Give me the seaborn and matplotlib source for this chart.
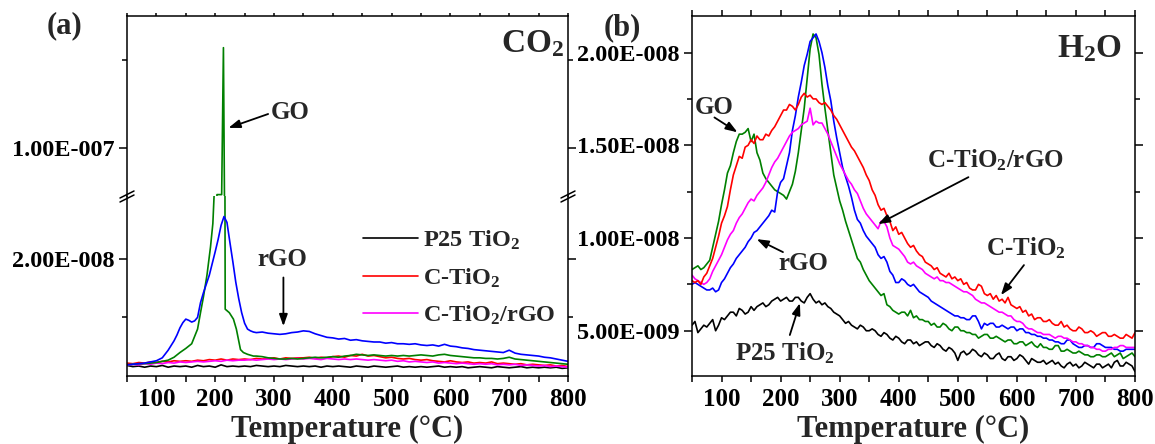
import numpy as np
import matplotlib
matplotlib.use("Agg")
import matplotlib.pyplot as plt
import seaborn as sns
from matplotlib.lines import Line2D
from matplotlib.ticker import FixedLocator

# ---------------- data (panel a, CO2, units 1e-8) ----------------
T_a = np.arange(50, 801, 10)
p25_a = [0.18,0.16,0.17,0.15,0.17,0.16,0.18,0.15,0.17,0.16,
         0.17,0.15,0.18,0.16,0.17,0.15,0.19,0.16,0.17,0.16,
         0.17,0.16,0.18,0.17,0.16,0.17,0.16,0.18,0.17,0.16,
         0.17,0.16,0.17,0.15,0.17,0.16,0.17,0.16,0.15,0.17,
         0.16,0.15,0.17,0.16,0.15,0.16,0.17,0.15,0.16,0.15,
         0.16,0.15,0.16,0.17,0.15,0.16,0.15,0.16,0.14,0.15,
         0.16,0.15,0.14,0.16,0.15,0.14,0.15,0.16,0.14,0.15,
         0.14,0.15,0.14,0.15,0.13,0.14]
ctio2_a = [0.22,0.21,0.23,0.22,0.24,0.23,0.25,0.24,0.26,0.25,
           0.26,0.25,0.27,0.26,0.28,0.27,0.29,0.27,0.29,0.28,
           0.29,0.28,0.30,0.29,0.30,0.31,0.29,0.31,0.30,0.31,
           0.31,0.32,0.30,0.32,0.31,0.33,0.34,0.32,0.35,0.34,
           0.37,0.34,0.35,0.33,0.31,0.32,0.30,0.29,0.30,0.28,
           0.27,0.28,0.26,0.25,0.24,0.26,0.24,0.23,0.24,0.22,
           0.23,0.22,0.24,0.21,0.22,0.21,0.20,0.21,0.19,0.20,
           0.19,0.18,0.19,0.17,0.18,0.16]
ctio2rgo_a = [0.18,0.20,0.19,0.21,0.20,0.22,0.21,0.23,0.22,0.24,
              0.23,0.24,0.25,0.24,0.25,0.26,0.25,0.27,0.26,0.27,
              0.27,0.28,0.27,0.28,0.29,0.28,0.29,0.28,0.29,0.30,
              0.29,0.30,0.29,0.28,0.30,0.29,0.28,0.29,0.28,0.29,
              0.28,0.27,0.28,0.27,0.26,0.27,0.25,0.26,0.24,0.25,
              0.24,0.23,0.24,0.22,0.23,0.22,0.21,0.22,0.21,0.20,
              0.21,0.20,0.21,0.19,0.20,0.19,0.20,0.18,0.19,0.18,
              0.17,0.18,0.16,0.17,0.16,0.15]
T_rgo_a = [50,60,70,80,90,100,110,120,130,
           135,140,145,150,155,160,165,170,175,180,185,190,195,200,205,210,215,220,
           225,230,235,240,245,250,255,260,265,
           270,280,290,300,310,320,330,340,350,360,370,380,390,400,410,420,430,440,
           450,460,470,480,490,500,510,520,530,540,550,560,570,580,590,600,610,620,
           630,640,650,660,670,680,690,700,710,720,730,740,750,760,770,780,790,800]
rgo_a = [0.19,0.20,0.21,0.22,0.24,0.26,0.31,0.44,0.60,
         0.70,0.82,0.91,0.97,0.95,0.92,0.94,1.00,1.25,1.42,1.57,1.72,1.92,2.12,2.33,2.57,2.72,2.62,
         2.28,1.95,1.60,1.32,1.08,0.90,0.80,0.77,0.75,
         0.74,0.75,0.73,0.72,0.71,0.72,0.74,0.75,0.77,0.76,0.72,0.69,0.66,0.65,0.63,0.64,0.61,0.62,
         0.60,0.59,0.58,0.58,0.56,0.57,0.55,0.55,0.54,0.55,0.53,0.52,0.53,0.51,0.54,0.51,0.50,0.48,
         0.47,0.45,0.44,0.43,0.42,0.41,0.40,0.44,0.39,0.37,0.36,0.35,0.34,0.32,0.31,0.29,0.27,0.25]
T_go_a = [50,60,70,80,90,100,110,120,130,140,150,160,170,175,180,186,192,196,200,203,211,214,217,
          224,231,236,240,243,248,255,265,
          270,280,290,300,310,320,330,340,350,360,370,380,390,400,410,420,430,440,
          450,460,470,480,490,500,510,520,530,540,550,560,570,580,590,600,610,620,
          630,640,650,660,670,680,690,700,710,720,730,740,750,760,770,780,790,800]
go_a = [0.19,0.20,0.21,0.21,0.22,0.23,0.25,0.27,0.32,0.40,0.47,0.55,0.80,1.08,1.35,1.72,2.20,2.60,3.50,7.35,7.35,15.7,1.14,
        1.08,0.97,0.80,0.60,0.45,0.40,0.37,0.34,
        0.34,0.33,0.31,0.30,0.29,0.29,0.30,0.29,0.30,0.31,0.32,0.31,0.32,0.33,0.32,0.34,0.35,0.37,
        0.36,0.35,0.36,0.35,0.34,0.35,0.34,0.35,0.34,0.35,0.36,0.35,0.34,0.36,0.37,0.35,0.34,0.33,
        0.32,0.31,0.31,0.30,0.30,0.29,0.30,0.32,0.29,0.28,0.27,0.26,0.25,0.24,0.23,0.22,0.21,0.20]

# ---------------- data (panel b, H2O, units 1e-9, every 5 C) ----------------
T_b = np.arange(50, 801, 5)
p25_b = [5.3,5.5,4.9,5.1,5.3,5.2,5.4,5.6,5.0,5.3,
         5.7,5.6,5.8,6.0,6.0,5.8,6.2,6.1,5.9,6.0,
         6.3,6.1,6.3,6.4,6.5,6.3,6.4,6.6,6.7,6.8,
         6.6,6.7,6.8,6.6,6.6,6.8,6.8,6.6,6.5,6.8,
         7.0,6.7,6.5,6.6,6.4,6.5,6.3,6.2,6.0,5.9,
         5.8,5.6,5.4,5.5,5.3,5.2,5.1,5.3,5.2,5.0,
         5.0,5.1,5.0,4.8,4.7,4.9,4.8,4.6,4.5,4.7,
         4.6,4.4,4.3,4.5,4.5,4.3,4.4,4.2,4.3,4.4,
         4.4,4.2,4.1,4.3,4.2,4.0,3.9,4.1,4.0,3.8,
         3.4,3.8,3.9,3.7,3.8,4.0,3.9,3.7,3.6,3.8,
         3.7,3.5,3.5,3.7,3.8,3.5,3.4,3.6,3.6,3.4,
         3.5,3.7,3.6,3.4,3.2,3.5,3.4,3.3,3.3,3.4,
         3.2,3.3,3.4,3.2,3.3,3.1,3.0,3.2,3.3,3.1,
         3.2,3.0,3.1,3.3,3.2,3.1,3.0,3.2,3.2,3.0,
         3.1,3.2,3.0,3.3,3.4,3.1,3.1,3.3,3.2,3.1,
         2.8]
go_b = [8.3,8.4,8.5,8.3,8.4,8.6,8.8,9.5,10.2,10.9,
        11.8,12.6,13.5,13.9,14.6,15.2,15.6,15.6,15.7,15.9,
        15.2,15.6,14.6,14.2,13.5,13.2,13.0,12.8,12.6,12.5,
        12.4,12.3,12.1,12.5,12.9,13.6,14.6,15.8,17.0,18.6,
        20.2,21.0,20.8,19.9,18.3,17.0,15.8,14.6,13.4,12.7,
        12.0,11.5,10.9,10.4,9.9,9.4,8.9,8.7,8.3,8.0,
        7.7,7.5,7.3,7.1,6.9,7.0,6.4,6.3,6.1,6.0,
        5.9,6.0,6.0,5.8,6.1,5.7,5.8,5.6,5.6,5.5,
        5.5,5.3,5.4,5.2,5.2,5.4,5.3,5.1,5.0,5.2,
        5.2,5.0,5.0,4.9,4.9,4.8,4.8,4.6,4.7,4.8,
        4.8,4.6,4.6,4.7,4.6,4.5,4.4,4.5,4.5,4.3,
        4.3,4.4,4.4,4.2,4.3,4.4,4.2,4.1,4.3,4.1,
        4.1,4.0,4.0,4.2,4.2,3.9,3.9,4.0,3.9,3.8,
        3.8,3.9,3.8,3.7,3.7,3.6,3.6,3.7,3.7,3.6,
        3.6,3.7,3.8,3.6,3.7,3.8,3.5,3.6,3.7,3.8,
        3.6]
ctio2_b = [7.7,7.6,7.7,7.5,7.9,8.1,8.5,8.9,9.5,10.1,
           10.8,11.2,11.7,12.6,13.4,13.9,14.4,14.3,14.9,15.0,
           15.3,15.1,15.5,15.3,15.3,15.6,15.5,15.8,16.0,16.3,
           16.6,16.9,16.9,17.2,17.1,16.9,17.2,17.6,17.8,17.6,
           17.7,17.5,17.5,17.3,17.2,17.3,17.1,16.9,16.6,16.4,
           16.1,15.8,15.5,15.2,14.9,14.7,14.4,14.1,13.8,13.4,
           13.1,12.6,12.3,11.8,11.5,11.6,11.2,10.9,10.4,10.6,
           10.2,10.3,10.0,9.7,9.5,9.6,9.3,9.1,9.0,8.7,
           8.6,8.5,8.3,8.4,8.1,8.0,7.9,8.1,7.8,7.9,
           7.7,7.8,7.5,7.6,7.3,7.2,7.2,7.5,7.4,7.0,
           6.9,7.0,6.7,6.9,6.6,6.7,6.5,6.8,6.4,6.3,
           6.2,6.3,6.0,6.1,5.8,5.9,5.6,5.7,5.7,5.5,
           5.5,5.6,5.4,5.3,5.3,5.5,5.2,5.3,5.1,5.0,
           5.0,5.2,5.1,4.9,4.9,5.0,4.9,4.7,4.8,4.9,
           4.9,4.7,4.7,4.8,4.7,4.6,4.6,4.8,4.7,4.6,
           4.9]
ctio2rgo_b = [8.0,7.8,7.7,7.6,7.5,7.6,7.8,8.2,8.5,8.8,
              9.1,9.5,9.9,10.2,10.4,10.8,11.1,11.3,11.6,11.9,
              12.1,12.0,12.3,12.5,12.7,13.0,13.4,13.8,14.1,14.3,
              14.6,14.9,15.2,15.5,15.7,15.8,15.9,16.1,16.2,16.3,
              17.0,16.1,16.3,16.2,16.2,15.9,15.6,15.2,14.8,14.4,
              14.0,13.7,13.4,13.1,12.9,12.6,12.4,12.0,11.6,11.3,
              11.1,10.9,10.7,10.5,10.9,10.9,10.6,10.0,9.6,9.5,
              9.4,9.2,9.0,8.7,8.6,8.7,8.5,8.4,8.3,8.1,
              8.0,7.9,7.8,7.9,7.7,7.7,7.6,7.6,7.5,7.4,
              7.3,7.2,7.1,7.1,7.0,6.9,6.7,6.6,6.5,6.5,
              6.4,6.3,6.2,6.1,6.0,6.0,5.9,5.8,5.8,5.6,
              5.5,5.5,5.4,5.2,5.1,5.1,5.0,4.9,4.9,4.8,
              4.8,4.8,4.7,4.6,4.7,4.7,4.6,4.6,4.5,4.4,
              4.4,4.3,4.3,4.2,4.2,4.1,4.1,4.0,4.0,3.9,
              3.9,4.0,4.0,4.1,4.1,4.2,4.2,4.1,4.1,4.1,
              4.1]
rgo_b = [7.5,7.6,7.5,7.4,7.3,7.2,7.2,7.3,7.1,7.2,
         7.6,7.8,8.1,8.4,8.6,8.9,9.1,9.3,9.5,9.8,
         10.0,10.3,10.4,10.6,10.8,11.0,11.2,11.5,11.4,12.5,
         13.0,13.2,13.9,14.6,15.8,16.6,17.6,18.4,19.3,19.9,
         20.6,20.8,21.0,20.6,20.0,19.2,18.2,17.4,16.3,15.4,
         14.6,13.8,13.3,12.8,12.2,11.5,11.0,10.8,10.4,10.1,
         9.9,9.7,9.5,9.1,8.9,9.0,8.7,8.2,8.0,7.6,
         7.6,7.8,7.7,7.5,7.4,7.5,7.3,7.1,7.0,6.9,
         6.8,6.6,6.5,6.4,6.3,6.2,6.1,6.0,5.9,5.8,
         5.8,5.7,5.7,5.6,5.6,5.8,5.8,5.5,5.1,5.4,
         5.3,5.4,5.4,5.2,5.2,5.3,5.2,5.1,5.2,5.2,
         5.0,5.1,5.1,4.9,4.9,4.8,4.8,4.7,4.7,4.6,
         4.6,4.5,4.5,4.4,4.4,4.3,4.3,4.5,4.5,4.3,
         4.2,4.1,4.1,4.2,4.2,4.1,4.1,4.3,4.3,4.2,
         4.1,4.1,4.1,4.0,4.0,3.9,3.9,4.0,4.0,4.0,
         4.0]

x_ticks = [100, 200, 300, 400, 500, 600, 700, 800]
x_labels = ["100", "200", "300", "400", "500", "600", "700", "800"]
ya_up_ticks = [1.0e-7]; ya_up_labels = ["1.00E-007"]
ya_low_ticks = [2.0e-8]; ya_low_labels = ["2.00E-008"]
yb_ticks = [5e-9, 1e-8, 1.5e-8, 2e-8]
yb_labels = ["5.00E-009", "1.00E-008", "1.50E-008", "2.00E-008"]
legend_labels = ["P25 TiO$_2$", "C-TiO$_2$", "C-TiO$_2$/rGO"]

COL = {"p25": "black", "c": "#ff0000", "crgo": "#ff00ff", "rgo": "#0000ff", "go": "#008000"}

sns.set_style("ticks")
plt.rcParams.update({
    "font.family": ["Liberation Serif", "DejaVu Serif"],
    "font.weight": "bold",
    "mathtext.fontset": "custom",
    "mathtext.rm": "Liberation Serif:bold",
    "mathtext.bf": "Liberation Serif:bold",
    "mathtext.it": "Liberation Serif:bold",
    "mathtext.default": "rm",
    "axes.linewidth": 1.1,
    "axes.edgecolor": "black",
})

W, H = 1155, 444
fig = plt.figure(figsize=(W / 100, H / 100), dpi=100)
axA_low = fig.add_axes([127 / W, 1 - 376 / H, 441 / W, 180 / H])
axA_up = fig.add_axes([127 / W, 1 - 196 / H, 441 / W, 180 / H])
axB = fig.add_axes([692 / W, 1 - 376 / H, 443 / W, 360 / H])

LW = 1.2
for ax in (axA_low, axA_up):
    sns.lineplot(x=T_a, y=np.array(p25_a) * 1e-8, color=COL["p25"], lw=LW, ax=ax, legend=False)
    sns.lineplot(x=T_a, y=np.array(ctio2_a) * 1e-8, color=COL["c"], lw=LW, ax=ax, legend=False)
    sns.lineplot(x=T_a, y=np.array(ctio2rgo_a) * 1e-8, color=COL["crgo"], lw=LW, ax=ax, legend=False)
    sns.lineplot(x=T_go_a, y=np.array(go_a) * 1e-8, color=COL["go"], lw=LW, ax=ax, legend=False, sort=False)
    sns.lineplot(x=T_rgo_a, y=np.array(rgo_a) * 1e-8, color=COL["rgo"], lw=LW, ax=ax, legend=False)
    ax.set_xlim(50, 800)

sns.lineplot(x=T_b, y=np.array(p25_b) * 1e-9, color=COL["p25"], lw=LW, ax=axB, legend=False)
sns.lineplot(x=T_b, y=np.array(go_b) * 1e-9, color=COL["go"], lw=LW, ax=axB, legend=False)
sns.lineplot(x=T_b, y=np.array(rgo_b) * 1e-9, color=COL["rgo"], lw=LW, ax=axB, legend=False)
sns.lineplot(x=T_b, y=np.array(ctio2rgo_b) * 1e-9, color=COL["crgo"], lw=LW, ax=axB, legend=False)
sns.lineplot(x=T_b, y=np.array(ctio2_b) * 1e-9, color=COL["c"], lw=LW, ax=axB, legend=False)
axB.set_xlim(50, 800)

axA_low.set_ylim(0, 3.07e-8)
axA_up.set_ylim(7.27e-8, 1.75e-7)
axB.set_ylim(2.56e-9, 2.197e-8)

for ax in (axA_low, axA_up, axB):
    ax.set_xlabel("")
    ax.set_ylabel("")
    for s in ax.spines.values():
        s.set_visible(True)
        s.set_linewidth(1.1)
    ax.xaxis.set_major_locator(FixedLocator(x_ticks))
    ax.xaxis.set_minor_locator(FixedLocator([50, 150, 250, 350, 450, 550, 650, 750]))
    ax.tick_params(axis="both", which="both", direction="out", width=1.1, colors="black")
    ax.tick_params(axis="x", which="both", length=4, labelsize=18, pad=4.3)
    ax.tick_params(axis="y", which="major", length=6, labelsize=17.5, pad=3)
    ax.tick_params(axis="y", which="minor", length=3.5)
    ax.tick_params(right=True, top=True, which="both")
    ax.set_facecolor("white")

axA_low.spines["top"].set_visible(False)
axA_up.spines["bottom"].set_visible(False)
axA_low.tick_params(axis="x", which="both", top=False)
axA_up.tick_params(axis="x", which="both", bottom=False, labelbottom=False, length=2.5)

axA_low.set_xticks(x_ticks, x_labels, fontweight="bold")
axB.set_xticks(x_ticks, x_labels, fontweight="bold")
axA_up.set_yticks(ya_up_ticks, ya_up_labels, fontweight="bold")
axA_up.yaxis.set_minor_locator(FixedLocator([1.5e-7]))
axA_low.set_yticks(ya_low_ticks, ya_low_labels, fontweight="bold")
axA_low.yaxis.set_minor_locator(FixedLocator([1e-8]))
axB.set_yticks(yb_ticks, yb_labels, fontweight="bold")
axB.yaxis.set_minor_locator(FixedLocator([2.5e-9, 7.5e-9, 1.25e-8, 1.75e-8]))

# x labels
for ax, yy in ((axA_low, -39 / 180), (axB, -39 / 360)):
    ax.set_xlabel("Temperature (°C)", fontsize=22, fontweight="bold")
    ax.xaxis.set_label_coords(0.5, yy)

# broken axis marks
def px_line(x1, y1, x2, y2):
    fig.add_artist(Line2D([x1 / W, x2 / W], [1 - y1 / H, 1 - y2 / H], color="black", lw=1.1,
                          transform=fig.transFigure))

for xc in (127, 568):
    px_line(xc - 7, 202, xc + 7, 195)
    px_line(xc - 7, 198, xc + 7, 191)

# legend (panel a)
handles = axA_low.get_lines()[:3]
leg = axA_low.legend(handles, legend_labels, loc="upper left", bbox_to_anchor=(363 / W, 1 - 229 / H),
                     bbox_transform=fig.transFigure, frameon=False, fontsize=17.5,
                     handlelength=2.26, handletextpad=0.2, labelspacing=0.58, borderpad=0,
                     borderaxespad=0)
for t in leg.get_texts():
    t.set_fontweight("bold")

# panel letters and gas labels
fig.text(64 / W, 1 - 26 / H, "(a)", fontsize=22, fontweight="bold", ha="center", va="center")
fig.text(622 / W, 1 - 28 / H, "(b)", fontsize=22, fontweight="bold", ha="center", va="center")
fig.text(564 / W, 1 - 52 / H, "CO$_2$", fontsize=24, fontweight="bold", ha="right", va="baseline")
fig.text(1122 / W, 1 - 57 / H, "H$_2$O", fontsize=24, fontweight="bold", ha="right", va="baseline")

AP = dict(arrowstyle="-|>,head_length=0.7,head_width=0.25", color="black", lw=1.3,
          shrinkA=0, shrinkB=0)

def note(ax, text, txy, tail, tip):
    ax.text(txy[0], txy[1], text, fontsize=18, fontweight="bold", ha="center", va="center")
    ax.annotate("", xy=tip, xytext=tail, arrowprops=AP)

note(axA_up, "GO", (328, 1.199e-7), (290, 1.193e-7), (222.5, 1.114e-7))
note(axA_low, "rGO", (314, 1.98e-8), (316, 1.68e-8), (316, 0.85e-8))
note(axB, "GO", (88, 17.05e-9), (88, 16.5e-9), (127, 15.7e-9))
note(axB, "rGO", (238, 8.64e-9), (204, 9.24e-9), (159.5, 9.94e-9))
note(axB, "P25 TiO$_2$", (207, 3.8e-9), (215.6, 4.77e-9), (232.7, 6.49e-9))
note(axB, "C-TiO$_2$/rGO", (564, 14.2e-9), (518, 13.28e-9), (365, 10.75e-9))
note(axB, "C-TiO$_2$", (615, 9.46e-9), (612, 8.54e-9), (573, 6.92e-9))

fig.savefig("out.png", dpi=100, facecolor="white")
